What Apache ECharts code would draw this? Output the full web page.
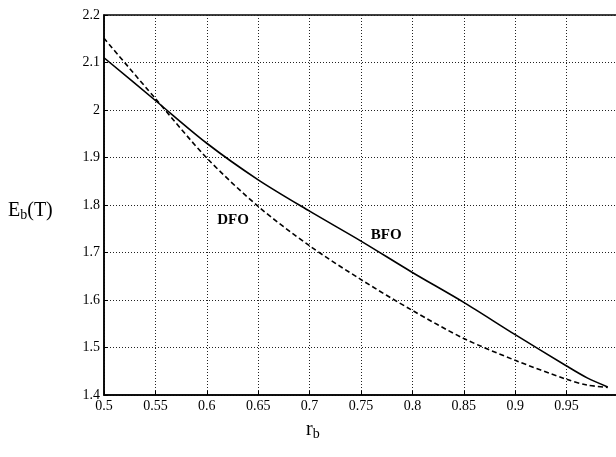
<!DOCTYPE html>
<html>
<head>
<meta charset="utf-8">
<script src="https://cdn.jsdelivr.net/npm/echarts@6/dist/echarts.min.js"></script>
<style>
  html, body { margin: 0; padding: 0; background: #fff; }
  #chart { width: 616px; height: 457px; }
</style>
</head>
<body>
<div id="chart"></div>
<script>
var rb = [0.5, 0.55, 0.6, 0.65, 0.7, 0.75, 0.8, 0.85, 0.9, 0.95, 0.97, 0.99];
// BFO, solid line
var bfo = [2.110, 2.020, 1.930, 1.853, 1.787, 1.724, 1.658, 1.595, 1.527, 1.461, 1.436, 1.417];
// DFO, dashed line
var dfo = [2.151, 2.024, 1.899, 1.797, 1.714, 1.643, 1.578, 1.519, 1.473, 1.433, 1.421, 1.416];
// curve labels [x, y]
var bfoLabel = [0.7745, 1.736];
var dfoLabel = [0.6255, 1.769];

var serif = 'Liberation Serif';

function pairs(xs, ys) {
  return xs.map(function (x, i) { return [x, ys[i]]; });
}

var chart = echarts.init(document.getElementById('chart'));

var option = {
  animation: false,
  backgroundColor: '#fff',
  grid: {
    left: 104,
    right: -2,
    top: 15,
    bottom: 62,
    outerBoundsMode: 'none',
    containLabel: false,
    show: true,
    borderColor: '#000',
    borderWidth: 1.5
  },
  xAxis: {
    type: 'value',
    min: 0.5,
    max: 1.0,
    interval: 0.05,
    axisLine: { show: true, onZero: false, lineStyle: { color: '#000', width: 1.5 } },
    axisTick: { show: true, inside: true, length: 4, lineStyle: { color: '#000' } },
    axisLabel: {
      color: '#000',
      fontFamily: serif,
      fontSize: 14,
      margin: 4,
      formatter: function (v) {
        if (Math.abs(v - 1) < 1e-6) return '';
        return String(Math.round(v * 100) / 100);
      }
    },
    splitLine: { show: true, lineStyle: { color: '#222', type: [1, 2], width: 1 } }
  },
  yAxis: {
    type: 'value',
    min: 1.4,
    max: 2.2,
    interval: 0.1,
    axisLine: { show: true, onZero: false, lineStyle: { color: '#000', width: 1.5 } },
    axisTick: { show: true, inside: true, length: 4, lineStyle: { color: '#000' } },
    axisLabel: {
      color: '#000',
      fontFamily: serif,
      fontSize: 14,
      margin: 4,
      formatter: function (v) {
        return String(Math.round(v * 10) / 10);
      }
    },
    splitLine: { show: true, lineStyle: { color: '#222', type: [1, 2], width: 1 } }
  },
  series: [
    {
      name: 'BFO',
      type: 'line',
      data: pairs(rb, bfo),
      smooth: 0.3,
      showSymbol: false,
      lineStyle: { color: '#000', width: 1.6, type: 'solid' },
      markPoint: {
        symbol: 'circle',
        symbolSize: 0,
        label: {
          show: true,
          position: 'inside',
          color: '#000',
          fontFamily: serif,
          fontSize: 15,
          fontWeight: 'bold',
          formatter: 'BFO'
        },
        data: [{ coord: bfoLabel }]
      }
    },
    {
      name: 'DFO',
      type: 'line',
      data: pairs(rb, dfo),
      smooth: 0.3,
      showSymbol: false,
      lineStyle: { color: '#000', width: 1.6, type: [5, 3] },
      markPoint: {
        symbol: 'circle',
        symbolSize: 0,
        label: {
          show: true,
          position: 'inside',
          color: '#000',
          fontFamily: serif,
          fontSize: 15,
          fontWeight: 'bold',
          formatter: 'DFO'
        },
        data: [{ coord: dfoLabel }]
      }
    }
  ],
  graphic: [
    {
      type: 'text',
      left: 8,
      top: 201,
      style: {
        text: '{m|E}{s|b}{m|(T)}',
        rich: {
          m: { fontFamily: serif, fontSize: 20, fill: '#000' },
          s: { fontFamily: serif, fontSize: 14, fill: '#000', padding: [9, 0, 0, 0] }
        }
      }
    },
    {
      type: 'text',
      left: 306,
      top: 420,
      style: {
        text: '{m|r}{s|b}',
        rich: {
          m: { fontFamily: serif, fontSize: 20, fill: '#000' },
          s: { fontFamily: serif, fontSize: 14, fill: '#000', padding: [9, 0, 0, 0] }
        }
      }
    }
  ]
};

chart.setOption(option);
</script>
</body>
</html>
